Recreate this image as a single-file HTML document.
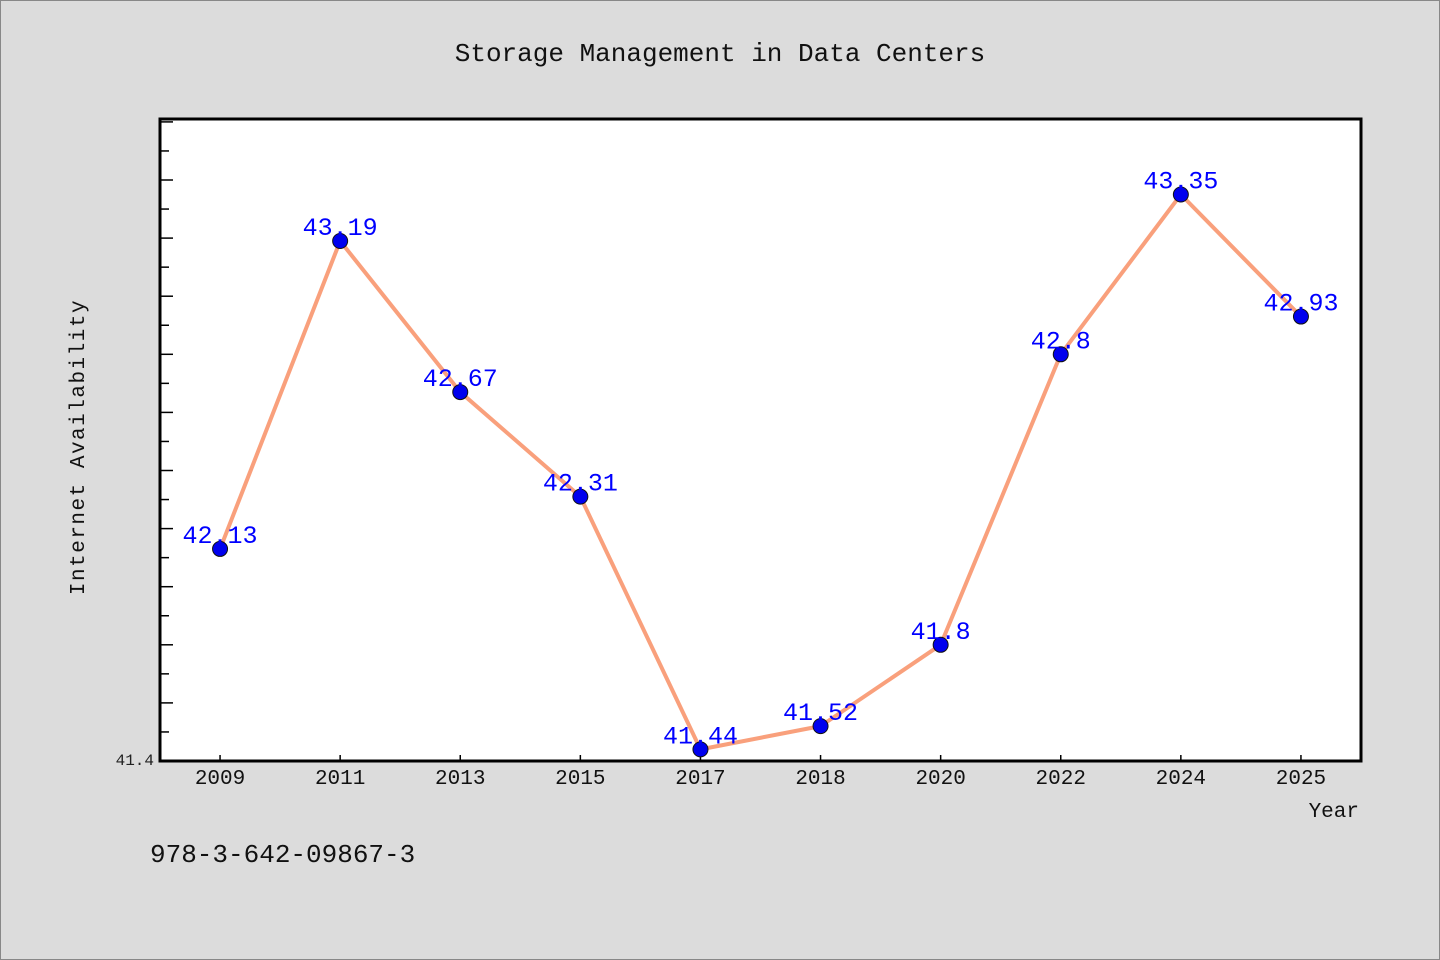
<!DOCTYPE html>
<html><head><meta charset="utf-8">
<style>
html,body{margin:0;padding:0;background:#dcdcdc;}
svg{display:block;}
text{font-family:"WenQuanYi Zen Hei Mono","WenQuanYi Zen Hei","Liberation Mono",monospace;}
</style></head>
<body>
<svg id="chart" width="1440" height="960" viewBox="0 0 1440 960" xmlns="http://www.w3.org/2000/svg">
<rect x="0.5" y="0.5" width="1439" height="959" fill="#dcdcdc" stroke="#888" stroke-width="1"/>
<text x="720" y="61" font-size="26" text-anchor="middle" fill="#111">Storage Management in Data Centers</text>
<rect x="160" y="119" width="1201" height="642" fill="#fff"/>
<g id="yticks"></g>
<g id="xticks"></g>
<g id="series"></g>
<path d="M160,119 H1361 V761 H160 Z" fill="none" stroke="#000" stroke-width="3"/>
<text transform="translate(84,447) rotate(-90)" font-size="21" letter-spacing="1.5" text-anchor="middle" fill="#111">Internet Availability</text>
<text x="1359" y="817" font-size="21" text-anchor="end" fill="#111">Year</text>
<text x="150" y="862" font-size="26" fill="#111">978-3-642-09867-3</text>
</svg>
<script>
const categories = ["2009","2011","2013","2015","2017","2018","2020","2022","2024","2025"];
const values = [42.13,43.19,42.67,42.31,41.44,41.52,41.8,42.8,43.35,42.93];
const yLabelValues = [41.4];
const yMin = 41.4, yMax = 43.61;
const L=160,R=1361,T=119,B=761;
const NS="http://www.w3.org/2000/svg";
const band=(R-L)/categories.length;
function x(i){return L+band*(i+0.5);}
function y(v){return B-(v-yMin)/(yMax-yMin)*(B-T);}
function mk(tag,attrs,parent){const e=document.createElementNS(NS,tag);for(const k in attrs)e.setAttribute(k,attrs[k]);parent.appendChild(e);return e;}
const yt=document.getElementById('yticks');
for(let k=1;;k++){const v=yMin+k*0.1;if(v>yMax+1e-9)break;const yy=y(v);const long=(Math.round(v*10)%2===0);
const t=mk('line',{x1:L,x2:L+(long?13:9),y1:yy,y2:yy,stroke:'#000','stroke-width':1.5},yt);

}
yLabelValues.forEach(v=>{const t=mk('text',{x:L-6,y:y(v)+4,'font-size':16,'text-anchor':'end',fill:'#222'},yt);t.textContent=v.toFixed(1);

});
const xt=document.getElementById('xticks');
categories.forEach((c,i)=>{const l=mk('line',{x1:x(i),x2:x(i),y1:B,y2:B-6,stroke:'#000','stroke-width':1.5},xt);


const t=mk('text',{x:x(i),y:B+23,'font-size':21,'text-anchor':'middle',fill:'#111'},xt);t.textContent=c;

});
const s=document.getElementById('series');
const p=mk('polyline',{points:values.map((v,i)=>x(i)+','+y(v)).join(' '),fill:'none',stroke:'#f9a07c','stroke-width':4,'stroke-linejoin':'round'},s);


values.forEach((v,i)=>{const c=mk('circle',{cx:x(i),cy:y(v),r:7.5,fill:'#0000ee',stroke:'#111','stroke-width':1},s);


const t=mk('text',{x:x(i),y:y(v)-6,'font-size':25,'text-anchor':'middle',fill:'#0000ff'},s);t.textContent=String(v);

});
</script>
</body></html>
